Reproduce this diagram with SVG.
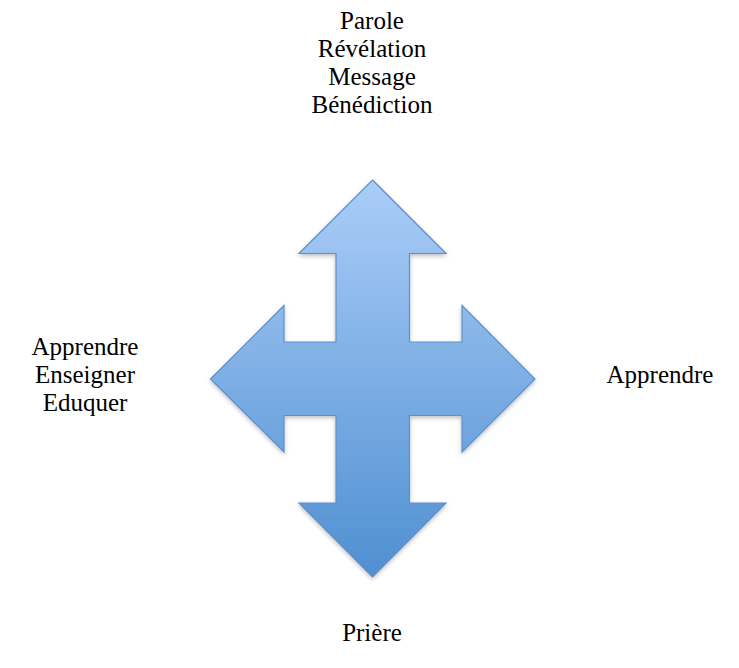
<svg xmlns="http://www.w3.org/2000/svg" width="739" height="668" viewBox="0 0 739 668">
<style>
.t{font-family:"Liberation Serif","DejaVu Serif",serif;font-size:25px;fill:#000;text-anchor:middle}
</style>
<defs>
<linearGradient id="g" x1="0" y1="0" x2="0" y2="1">
<stop offset="0" stop-color="#abcdf8"/>
<stop offset="1" stop-color="#4f8fd1"/>
</linearGradient>
<filter id="sh" x="-10%" y="-10%" width="120%" height="120%">
<feDropShadow dx="0" dy="2" stdDeviation="2" flood-color="#000" flood-opacity="0.25"/>
</filter>
</defs>
<rect width="739" height="668" fill="#fff"/>
<g id="cross">
<path d="M372.5,180 L446,253.5 L409.5,253.5 L409.5,342 L462,342 L462,305.5 L535,379 L462,452 L462,415.5 L409.5,415.5 L409.5,503 L446,503 L372.5,577 L299,503 L336,503 L336,415.5 L284,415.5 L284,452 L210.5,379 L284,305.5 L284,342 L336,342 L336,253.5 L299,253.5 Z" fill="url(#g)" stroke="#5b8fcc" stroke-width="1.2" filter="url(#sh)"/>
</g>
<g id="top">
<text class="t" x="372" y="29">Parole</text>
<text class="t" x="372" y="57">Révélation</text>
<text class="t" x="372" y="85">Message</text>
<text class="t" x="372" y="113">Bénédiction</text>
</g>
<g id="left">
<text class="t" x="85" y="355">Apprendre</text>
<text class="t" x="85" y="383">Enseigner</text>
<text class="t" x="85" y="411">Eduquer</text>
</g>
<g id="right">
<text class="t" x="660" y="383">Apprendre</text>
</g>
<g id="bottom">
<text class="t" x="372" y="641">Prière</text>
</g>
<g id="connectors"></g>
</svg>
